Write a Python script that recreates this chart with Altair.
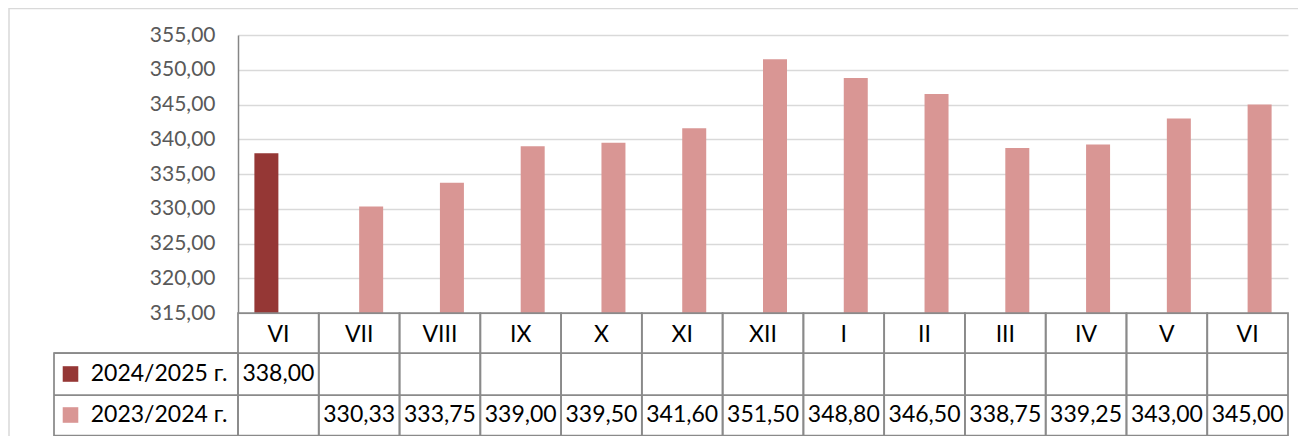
import altair as alt
import pandas as pd

# ---- data ----
months = ["VI", "VII", "VIII", "IX", "X", "XI", "XII", "I", "II", "III", "IV", "V", "VI"]
series_names = ["2024/2025 г.", "2023/2024 г."]
values_2425 = [338.00, None, None, None, None, None, None, None, None, None, None, None, None]
values_2324 = [None, 330.33, 333.75, 339.00, 339.50, 341.60, 351.50, 348.80, 346.50, 338.75, 339.25, 343.00, 345.00]
y_ticks = [315, 320, 325, 330, 335, 340, 345, 350, 355]
colors = ["#953735", "#D99694"]

positions = list(range(len(months)))
month_df = pd.DataFrame({"pos": positions, "label": months})

rows = []
for s, vals in zip(series_names, [values_2425, values_2324]):
    for p, v in zip(positions, vals):
        if v is not None:
            rows.append({"pos": p, "series": s, "value": v})
val_df = pd.DataFrame(rows)
legend_df = pd.DataFrame({"series": series_names, "row": [0, 1]})

W, H = 1050, 278
FONT = "Lato"
GRID = "#d9d9d9"
TABLE = "#8a8a8a"
ROW_Y = [339, 380]

xscale = alt.Scale(domain=positions, paddingInner=0, paddingOuter=0)
xenc = alt.X("pos:O", scale=xscale, axis=None)

bars = alt.Chart(val_df).mark_bar().encode(
    x=xenc,
    xOffset=alt.XOffset("series:N", scale=alt.Scale(domain=series_names, paddingInner=0, paddingOuter=0.683)),
    y=alt.Y("value:Q",
            scale=alt.Scale(domain=[315, 355], zero=False, nice=False),
            axis=alt.Axis(values=y_ticks, title=None, ticks=False,
                          labelExpr="replace(format(datum.value, '.2f'), '.', ',')",
                          labelFont=FONT, labelFontSize=21, labelColor="#595959",
                          labelPadding=23, domainColor="#868686", domainWidth=1.5,
                          grid=True, gridColor=GRID, gridWidth=1.5)),
    y2=alt.datum(y_ticks[0]),
    color=alt.Color("series:N", scale=alt.Scale(domain=series_names, range=colors), legend=None),
)

frame = alt.Chart(month_df.head(1)).mark_rect(fill=None, stroke=GRID, strokeWidth=1.5).encode(
    x=alt.value(-229), x2=alt.value(1075), y=alt.value(-26.5), y2=alt.value(430))

cells = alt.Chart(month_df).mark_rect(fill=None, stroke=TABLE, strokeWidth=1.75).encode(
    x=xenc, y=alt.value(H), y2=alt.value(400.5))

legend_cell = alt.Chart(month_df.head(1)).mark_rect(fill=None, stroke=TABLE, strokeWidth=1.75).encode(
    x=alt.value(-184), x2=alt.value(0), y=alt.value(318), y2=alt.value(400.5))

hline1 = alt.Chart(month_df.head(1)).mark_rule(color=TABLE, strokeWidth=1.75).encode(
    x=alt.value(-184), x2=alt.value(W), y=alt.value(318))
hline2 = alt.Chart(month_df.head(1)).mark_rule(color=TABLE, strokeWidth=1.75).encode(
    x=alt.value(-184), x2=alt.value(W), y=alt.value(360))

header = alt.Chart(month_df).mark_text(font=FONT, fontSize=23, color="#000000", baseline="middle").encode(
    x=xenc, y=alt.value(299.7), text="label:N")

fmt = "replace(format(datum.value, '.2f'), '.', ',')"
row_texts = []
for s, yv in zip(series_names, ROW_Y):
    t = alt.Chart(val_df).transform_filter(alt.datum.series == s).transform_calculate(txt=fmt).mark_text(
        font=FONT, fontSize=23, color="#000000", baseline="middle").encode(
        x=xenc, y=alt.value(yv), text="txt:N")
    row_texts.append(t)

legend_layers = []
for s, c, yv in zip(series_names, colors, ROW_Y):
    sq = alt.Chart(legend_df).transform_filter(alt.datum.series == s).mark_point(
        shape="square", filled=True, size=243, color=c, opacity=1).encode(
        x=alt.value(-167.5), y=alt.value(yv))
    tx = alt.Chart(legend_df).transform_filter(alt.datum.series == s).mark_text(
        font=FONT, fontSize=23, color="#000000", align="left", baseline="middle").encode(
        x=alt.value(-147.3), y=alt.value(yv), text="series:N")
    legend_layers += [sq, tx]

chart = alt.layer(frame, bars, cells, legend_cell, hline1, hline2, header, *row_texts, *legend_layers).properties(
    width=W, height=H,
    padding={"left": 230, "top": 27, "right": 10, "bottom": 123},
    autosize=alt.AutoSizeParams(type="none"),
    background="white",
).configure_view(stroke=None)

chart.save("out.html", embed_options={"renderer": "svg", "actions": False})
